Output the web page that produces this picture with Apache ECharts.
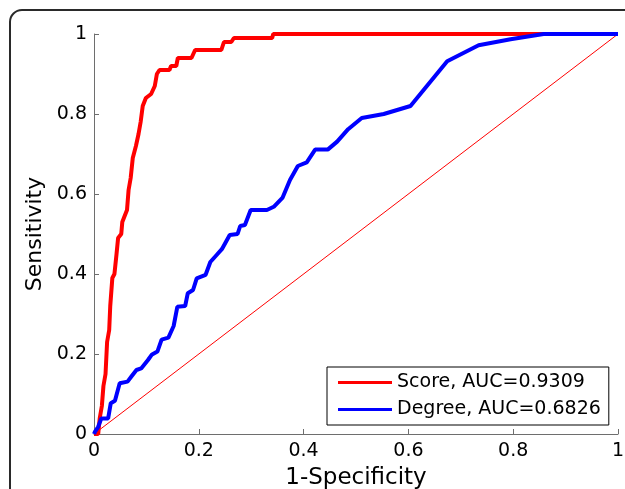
<!DOCTYPE html>
<html>
<head>
<meta charset="utf-8">
<script src="https://cdn.jsdelivr.net/npm/echarts@6/dist/echarts.min.js"></script>
<style>
html,body{margin:0;padding:0;background:#fff;}
#chart{width:625px;height:489px;}
</style>
</head>
<body>
<div id="chart"></div>
<script>
var xTicks = [0, 0.2, 0.4, 0.6, 0.8, 1];
var seriesNames = ['Score, AUC=0.9309', 'Degree, AUC=0.6826'];

var scoreFPR = [0, 0.008, 0.011, 0.015, 0.018, 0.022, 0.025, 0.029, 0.031, 0.035, 0.039, 0.043, 0.046, 0.052, 0.054, 0.057, 0.063, 0.066, 0.070, 0.074, 0.080, 0.085, 0.089, 0.093, 0.099, 0.109, 0.116, 0.120, 0.125, 0.144, 0.147, 0.157, 0.160, 0.186, 0.193, 0.243, 0.248, 0.262, 0.267, 0.340, 0.342, 1];
var scoreTPR = [0, 0.0, 0.04, 0.07, 0.12, 0.15, 0.23, 0.26, 0.32, 0.39, 0.40, 0.45, 0.49, 0.50, 0.53, 0.54, 0.56, 0.61, 0.64, 0.69, 0.72, 0.75, 0.78, 0.82, 0.84, 0.85, 0.87, 0.90, 0.91, 0.91, 0.92, 0.92, 0.94, 0.94, 0.96, 0.96, 0.98, 0.98, 0.99, 0.99, 1, 1];

var degreeFPR = [0, 0.002, 0.008, 0.014, 0.027, 0.032, 0.040, 0.049, 0.064, 0.071, 0.081, 0.090, 0.103, 0.110, 0.121, 0.129, 0.142, 0.152, 0.159, 0.174, 0.179, 0.189, 0.196, 0.213, 0.222, 0.234, 0.244, 0.259, 0.274, 0.279, 0.288, 0.299, 0.330, 0.343, 0.360, 0.374, 0.389, 0.406, 0.422, 0.446, 0.464, 0.485, 0.511, 0.553, 0.604, 0.674, 0.734, 0.795, 0.858, 1];
var degreeTPR = [0, 0.006, 0.018, 0.039, 0.039, 0.077, 0.083, 0.127, 0.131, 0.143, 0.160, 0.164, 0.185, 0.198, 0.206, 0.236, 0.241, 0.270, 0.318, 0.320, 0.352, 0.360, 0.389, 0.398, 0.430, 0.4475, 0.462, 0.4975, 0.500, 0.520, 0.5225, 0.560, 0.560, 0.568, 0.591, 0.635, 0.670, 0.679, 0.711, 0.711, 0.731, 0.762, 0.790, 0.800, 0.820, 0.932, 0.972, 0.987, 1.0, 1];

var chanceFPR = [0, 1];
var chanceTPR = [0, 1];

function zip(a, b) { return a.map(function (v, i) { return [v, b[i]]; }); }

var chart = echarts.init(document.getElementById('chart'), null, {renderer: 'canvas'});
var font = 'DejaVu Sans';
chart.setOption({
  animation: false,
  backgroundColor: '#ffffff',
  graphic: [{
    type: 'rect', z: 0, silent: true,
    shape: {x: 10, y: 10, width: 800, height: 700, r: 12},
    style: {fill: 'none', stroke: '#2a2a2a', lineWidth: 2}
  }],
  grid: {left: 94, right: 7, top: 34, bottom: 55, containLabel: false, outerBoundsMode: 'none'},
  xAxis: {
    type: 'value', min: 0, max: 1, interval: 0.2,
    name: '1-Specificity', nameLocation: 'middle', nameGap: 33,
    nameTextStyle: {fontFamily: font, fontSize: 23, color: '#000'},
    axisLine: {show: true, lineStyle: {color: '#6e6e6e', width: 1}},
    axisTick: {show: true, inside: true, length: 5, lineStyle: {color: '#6e6e6e'}},
    axisLabel: {fontFamily: font, fontSize: 19, color: '#000', margin: 8,
      formatter: function (v) { return String(+v.toFixed(1)); }},
    splitLine: {show: false}
  },
  yAxis: {
    type: 'value', min: 0, max: 1, interval: 0.2,
    name: 'Sensitivity', nameLocation: 'middle', nameGap: 48, nameRotate: 90,
    nameTextStyle: {fontFamily: font, fontSize: 22, color: '#000'},
    axisLine: {show: true, lineStyle: {color: '#6e6e6e', width: 1}},
    axisTick: {show: true, inside: true, length: 5, lineStyle: {color: '#6e6e6e'}},
    axisLabel: {fontFamily: font, fontSize: 19, color: '#000', margin: 7,
      formatter: function (v) { return String(+v.toFixed(1)); }},
    splitLine: {show: false}
  },
  legend: {
    data: seriesNames,
    orient: 'vertical',
    left: 327, top: 367,
    padding: [6, 8, 6, 11],
    itemWidth: 54, itemHeight: 3,
    itemGap: 8,
    icon: 'rect',
    backgroundColor: '#fff',
    borderColor: '#000', borderWidth: 1, borderRadius: 0,
    textStyle: {fontFamily: font, fontSize: 19, color: '#000', lineHeight: 19},
    selectedMode: false
  },
  series: [
    {
      name: 'chance', type: 'line', data: zip(chanceFPR, chanceTPR),
      showSymbol: false, symbol: 'none',
      lineStyle: {color: '#ff0000', width: 1}, itemStyle: {color: '#ff0000'}, z: 2
    },
    {
      name: seriesNames[0], type: 'line', data: zip(scoreFPR, scoreTPR),
      showSymbol: false, symbol: 'none',
      lineStyle: {color: '#ff0000', width: 4}, itemStyle: {color: '#ff0000'}, z: 3
    },
    {
      name: seriesNames[1], type: 'line', data: zip(degreeFPR, degreeTPR),
      showSymbol: false, symbol: 'none',
      lineStyle: {color: '#0000ff', width: 4}, itemStyle: {color: '#0000ff'}, z: 4
    }
  ]
});
</script>
</body>
</html>
